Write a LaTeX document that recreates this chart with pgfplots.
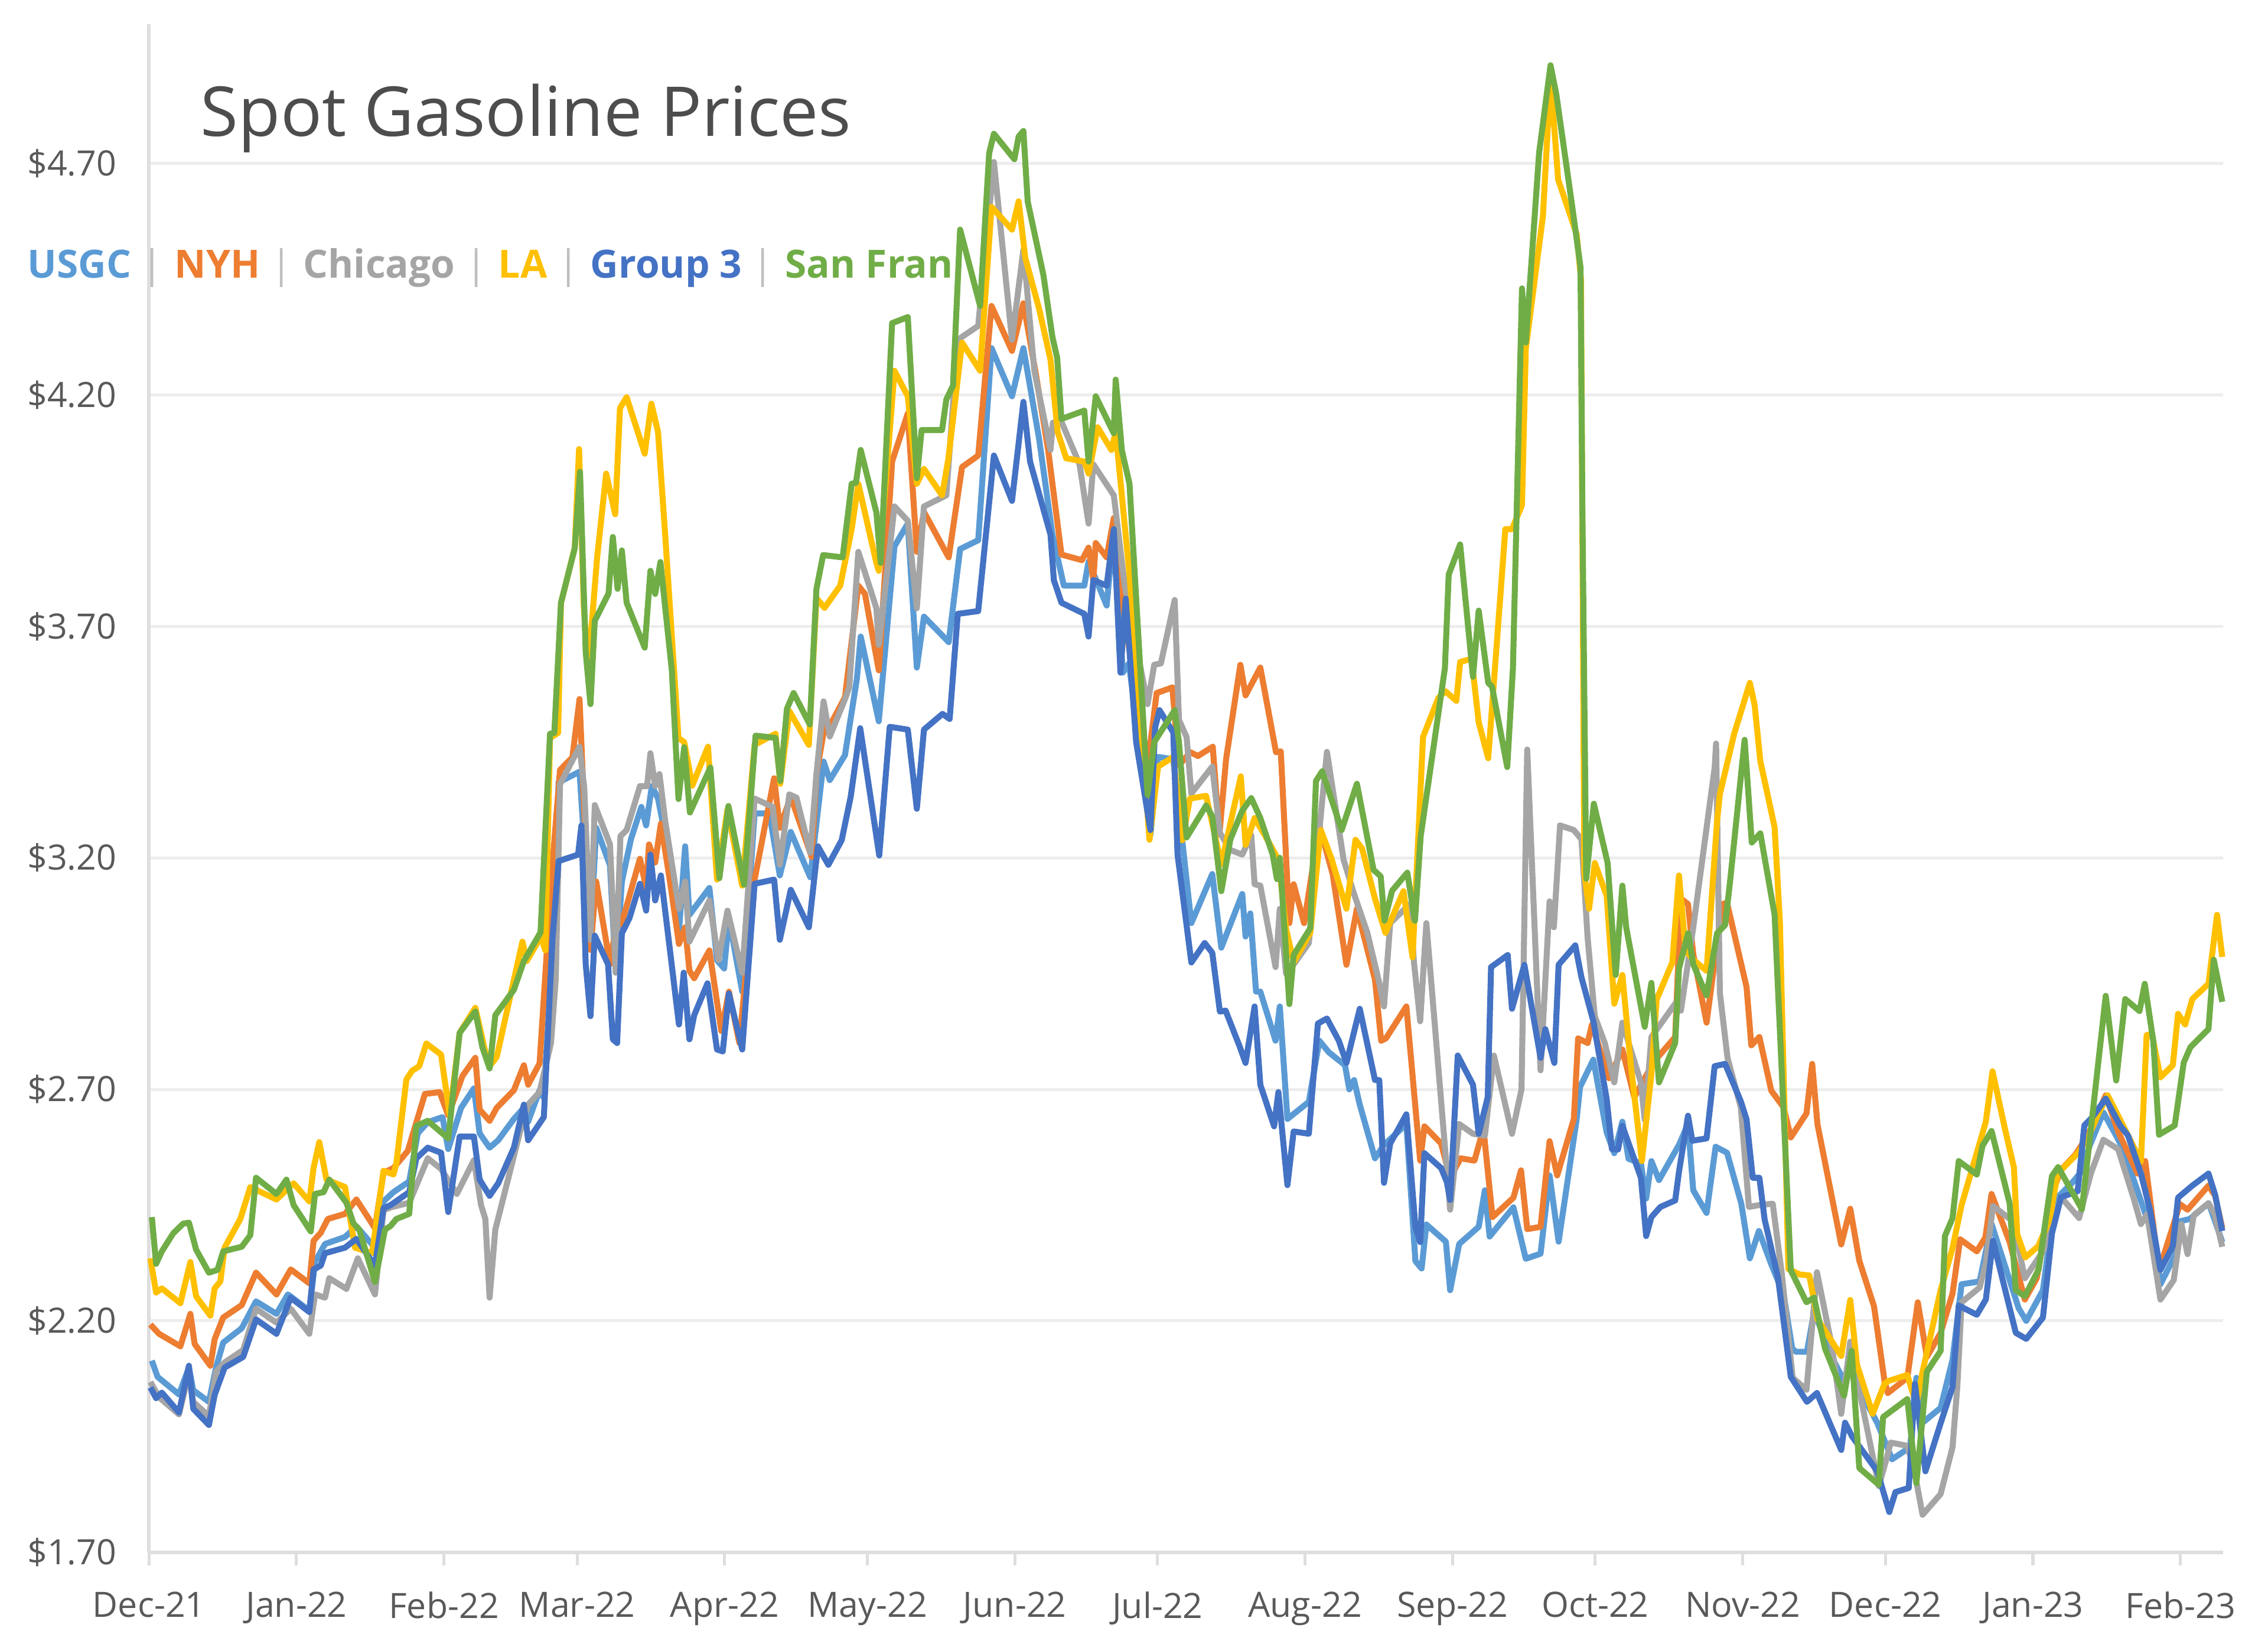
\documentclass[border=0pt]{standalone}
\usepackage{fontspec}
\setmainfont{Open Sans}
\usepackage{pgfplots}
\pgfplotsset{compat=1.18}
\definecolor{usgc}{HTML}{5B9BD5}
\definecolor{nyh}{HTML}{ED7D31}
\definecolor{chi}{HTML}{A5A5A5}
\definecolor{la}{HTML}{FFC000}
\definecolor{gthree}{HTML}{4472C4}
\definecolor{sf}{HTML}{70AD47}
\definecolor{ticktxt}{HTML}{595959}
\definecolor{titletxt}{HTML}{4D4D4D}
\definecolor{sep}{HTML}{BFBFBF}
\begin{document}
\begin{tikzpicture}
\begin{axis}[
  scale only axis, width=14.633cm, height=10.776cm,
  xmin=0, xmax=436, ymin=1.7, ymax=5.0,
  axis x line*=bottom, axis y line*=left,
  axis line style={draw=black!13, line width=0.7pt},
  xtick={0,31,62,90,121,151,182,212,243,274,304,335,365,396,427},
  xticklabels={Dec-21,Jan-22,Feb-22,Mar-22,Apr-22,May-22,Jun-22,Jul-22,Aug-22,Sep-22,Oct-22,Nov-22,Dec-22,Jan-23,Feb-23},
  ytick={1.7,2.2,2.7,3.2,3.7,4.2,4.7},
  yticklabels={\$1.70,\$2.20,\$2.70,\$3.20,\$3.70,\$4.20,\$4.70},
  ymajorgrids, grid style={draw=black!7, line width=0.6pt},
  tick align=outside, major tick length=2.6pt,
  xtick style={draw=black!13, line width=0.6pt},
  ytick style={draw=none},
  tick label style={font=\fontsize{7}{8}\selectfont, text=ticktxt},
  xticklabel style={yshift=-1.8pt},
  yticklabel style={xshift=-0.4pt},
  clip=false,
  every axis plot/.append style={line width=1.2pt, line join=round, mark=none},
]
% USGC
\addplot[usgc] coordinates {(0.6,2.114)(1.8,2.079)(6.3,2.041)(8.4,2.099)(9.3,2.05)(12.6,2.025)(14.1,2.099)(15.6,2.153)(19.5,2.184)(22.5,2.242)(26.8,2.215)(29.2,2.257)(33.7,2.222)(34.9,2.327)(37.0,2.366)(41.2,2.381)(43.6,2.404)(47.5,2.358)(49.3,2.458)(51.4,2.478)(54.7,2.501)(56.5,2.605)(58.6,2.629)(61.7,2.64)(62.9,2.571)(65.6,2.66)(68.3,2.702)(69.5,2.605)(71.6,2.574)(73.4,2.59)(76.7,2.636)(78.8,2.66)(79.7,2.63)(82.1,2.698)(82.9,2.683)(85.1,3.023)(86.1,3.363)(90.5,3.386)(92.8,3.023)(94,3.265)(96.9,3.184)(98.1,2.952)(99.4,3.149)(101.3,3.24)(103.5,3.31)(104.5,3.27)(105.7,3.355)(107,3.328)(108.3,3.26)(111.4,3.041)(112.7,3.225)(113.6,3.077)(117.8,3.135)(119.4,2.979)(120.9,2.961)(121.9,3.07)(124.7,2.911)(127.3,3.296)(130.4,3.296)(132.6,3.162)(134.9,3.256)(139,3.158)(141.8,3.408)(143.1,3.368)(146.3,3.422)(148.8,3.587)(149.6,3.678)(153.4,3.495)(156.7,3.873)(159.5,3.922)(161.4,3.611)(162.9,3.721)(168.1,3.666)(170.5,3.867)(174.3,3.886)(177.1,4.301)(181.4,4.197)(183.8,4.301)(187.1,4.105)(189.9,3.898)(192.3,3.788)(196.6,3.788)(197.5,3.84)(201.3,3.745)(202.8,3.91)(204.7,3.6)(206,3.62)(210.5,3.249)(212.1,3.418)(215.3,3.413)(219.1,3.059)(223.5,3.165)(225.4,3.006)(229.8,3.122)(230.5,3.03)(231.5,3.08)(232.7,2.911)(233.6,2.911)(236.8,2.805)(237.7,2.879)(239.3,2.636)(243.8,2.673)(246,2.805)(248,2.78)(251.4,2.752)(252.3,2.7)(253.3,2.72)(254.5,2.667)(257.7,2.551)(259.6,2.58)(264.3,2.625)(266.2,2.329)(267.5,2.313)(268.5,2.408)(272.6,2.371)(273.5,2.266)(275.4,2.366)(279.5,2.403)(280.8,2.482)(281.8,2.382)(284,2.41)(286.8,2.445)(289.4,2.334)(292.5,2.345)(294.4,2.514)(296.3,2.371)(300.1,2.636)(300.8,2.705)(303.6,2.764)(306.4,2.607)(308,2.562)(309.7,2.63)(311,2.55)(313.6,2.54)(314.7,2.464)(315.8,2.545)(317.4,2.504)(321.6,2.58)(323.5,2.625)(324.6,2.482)(327.4,2.433)(329.3,2.576)(331.7,2.563)(334.7,2.453)(336.5,2.335)(338.4,2.394)(341,2.322)(343.6,2.257)(345.4,2.14)(346.2,2.133)(348.5,2.133)(350,2.22)(353.8,2.12)(356.3,2.07)(357.6,2.09)(363.3,1.979)(366.4,1.901)(370.2,1.927)(371.5,2.077)(372.8,1.98)(376.6,2.012)(379.1,2.116)(381,2.279)(384.8,2.285)(387.3,2.409)(393,2.227)(394.6,2.2)(398.1,2.266)(400.6,2.461)(404.4,2.5)(406,2.52)(408,2.58)(410.8,2.65)(413.5,2.6)(415,2.57)(418,2.48)(420,2.42)(421.5,2.38)(422.8,2.279)(426,2.344)(426.9,2.415)(429,2.42)(432.9,2.454)(433.8,2.43)(435.8,2.37)};
% NYH
\addplot[nyh] coordinates {(0.3,2.192)(2.1,2.172)(6.6,2.145)(8.7,2.215)(9.6,2.15)(12.9,2.103)(13.8,2.16)(15.6,2.207)(19.5,2.234)(22.5,2.304)(26.8,2.257)(29.8,2.311)(33.7,2.281)(34.6,2.373)(36.1,2.39)(37.6,2.42)(41.2,2.431)(43.6,2.462)(47.5,2.4)(49.3,2.52)(51.4,2.53)(54.4,2.567)(58.0,2.69)(61.1,2.694)(62.9,2.644)(65.9,2.729)(68.6,2.768)(69.5,2.656)(71.6,2.632)(73.1,2.66)(76.7,2.698)(78.8,2.752)(79.7,2.71)(82.1,2.756)(84.8,3.184)(86.4,3.39)(89,3.417)(90.5,3.543)(91.5,3.3)(92.8,3.001)(94,3.149)(96.9,2.97)(98.1,3.05)(99.4,3.06)(103.2,3.198)(104.5,3.135)(105.1,3.229)(106.4,3.19)(107.6,3.274)(109.5,3.15)(111.4,3.014)(112.7,3.05)(113.6,2.956)(114.6,2.94)(117.8,3.0)(120.3,2.826)(121.9,2.911)(124.1,2.8)(127.3,3.153)(131.4,3.372)(132.6,3.265)(134.9,3.332)(139.3,3.202)(140.3,3.38)(142.1,3.489)(143.1,3.485)(146.3,3.547)(149.1,3.788)(150.5,3.77)(153.4,3.605)(156.2,4.056)(159.5,4.16)(161.4,3.861)(162.9,3.947)(168.1,3.849)(170.9,4.044)(174.3,4.069)(177.1,4.392)(181.4,4.295)(183.8,4.398)(186.5,4.24)(189,4.081)(191.8,3.855)(196.1,3.843)(197.5,3.87)(198.5,3.8)(199,3.88)(201.3,3.849)(202.8,3.934)(205.1,3.715)(209.9,3.397)(211.8,3.556)(215.1,3.568)(216.5,3.4)(218.9,3.428)(220.5,3.42)(223.6,3.44)(225,3.25)(226.4,3.413)(229.4,3.617)(230.5,3.551)(233.6,3.611)(236.9,3.428)(237.9,3.43)(239.7,3.059)(240.6,3.143)(242.8,3.059)(246,3.27)(248.8,3.165)(251.7,2.969)(253.9,3.09)(257.7,2.937)(259,2.805)(260,2.81)(264.3,2.879)(267.2,2.546)(268.1,2.62)(271.6,2.583)(273.5,2.509)(275.7,2.551)(278.6,2.546)(280.5,2.615)(282.4,2.424)(286.8,2.466)(288.4,2.525)(289.7,2.398)(292.5,2.403)(294.4,2.588)(296,2.514)(299.5,2.636)(300.4,2.81)(302.4,2.8)(303.3,2.84)(306.9,2.724)(309.7,2.786)(312.2,2.683)(315.8,2.75)(317.2,2.77)(320.8,2.813)(321.9,3.091)(322.4,3.109)(323.5,3.1)(324.6,2.992)(327.4,2.844)(330.7,3.1)(331.7,3.103)(335.8,2.921)(336.8,2.795)(338.5,2.813)(341,2.697)(343.6,2.661)(345.1,2.596)(348.4,2.648)(349.6,2.755)(350.7,2.625)(355.7,2.365)(357.6,2.442)(359.5,2.33)(362.6,2.231)(364.8,2.07)(365.5,2.044)(369.6,2.077)(371.8,2.24)(373.7,2.122)(376.6,2.174)(379.1,2.259)(380.7,2.376)(384.2,2.35)(386,2.38)(387.3,2.474)(391.1,2.37)(394.3,2.246)(396.8,2.292)(400,2.474)(401.9,2.526)(405,2.56)(407.5,2.6)(411.3,2.687)(413.9,2.609)(418,2.518)(419.6,2.545)(422.5,2.309)(426.9,2.452)(428.5,2.44)(432.9,2.492)(434.3,2.47)(435.8,2.4)};
% Chicago
\addplot[chi] coordinates {(0.3,2.068)(2.1,2.035)(6.3,1.998)(8.4,2.087)(9.3,2.025)(12.6,1.994)(14.1,2.09)(15.9,2.11)(19.8,2.137)(22.5,2.226)(26.8,2.196)(29.8,2.226)(33.7,2.172)(34.9,2.257)(37.0,2.25)(37.9,2.292)(41.5,2.269)(43.9,2.335)(47.5,2.257)(49.3,2.439)(50.8,2.445)(54.7,2.455)(58.6,2.551)(61.4,2.528)(64.7,2.474)(68.3,2.547)(69.8,2.45)(70.7,2.42)(71.6,2.25)(72.8,2.397)(78.5,2.629)(79.7,2.667)(82.1,2.694)(84.5,2.8)(85.5,2.938)(86.4,3.359)(90.5,3.44)(91.5,3.35)(92.8,3.023)(93.7,3.314)(96.9,3.229)(98.1,2.952)(99.1,3.247)(100.4,3.26)(103.2,3.355)(104.7,3.355)(105.4,3.426)(106.4,3.355)(107.3,3.381)(108.5,3.28)(111.4,3.09)(112.7,3.149)(113.6,3.019)(117.8,3.108)(119.7,2.979)(121.6,3.086)(124.7,2.952)(127.3,3.328)(131.1,3.31)(132.6,3.185)(134.6,3.337)(136.1,3.33)(139,3.211)(140.3,3.38)(141.8,3.538)(143.1,3.462)(146.3,3.543)(147.2,3.568)(149.1,3.861)(152.9,3.739)(153.4,3.66)(156.7,3.959)(159.5,3.928)(161.4,3.739)(162.9,3.959)(167.6,3.983)(170,4.319)(174.3,4.349)(177.6,4.703)(181.4,4.319)(183.8,4.514)(186.1,4.252)(189.5,4.081)(190,4.14)(191.8,4.142)(195.6,4.05)(197.5,3.922)(198.5,4.05)(202.8,3.983)(205.1,3.788)(209.9,3.532)(211.3,3.617)(212.7,3.62)(215.6,3.757)(216.5,3.498)(218.1,3.461)(219.1,3.339)(223.5,3.397)(225.1,3.254)(227.3,3.217)(229.8,3.207)(231.7,3.249)(232.4,3.143)(233.6,3.14)(236.8,2.964)(237.7,3.09)(239,2.95)(240.9,2.974)(243.8,3.016)(246.3,3.291)(247.6,3.429)(251.1,3.196)(253.3,3.122)(256.1,3.038)(258.6,2.93)(259.6,2.879)(260.9,3.059)(265,3.1)(265.9,2.974)(267.2,2.847)(268.5,3.059)(273.5,2.44)(275.4,2.625)(278.3,2.604)(280.8,2.6)(282.7,2.773)(286.5,2.604)(288.5,2.7)(289.7,3.434)(292.5,2.741)(294.4,3.106)(295.3,3.05)(296.6,3.27)(299.5,3.26)(301.1,3.24)(302.4,3.027)(303.9,2.858)(306,2.8)(308,2.715)(309.7,2.844)(313.6,2.715)(314.4,2.634)(315.8,2.813)(320.8,2.885)(322,2.87)(324.6,3.05)(329.1,3.395)(329.4,3.447)(330.2,2.908)(331.8,2.768)(334.6,2.661)(336.3,2.446)(338.5,2.45)(341.3,2.453)(343.2,2.303)(345.5,2.077)(348.4,2.051)(350.6,2.305)(353.8,2.142)(355.7,1.999)(357.6,2.155)(359.5,2.05)(363.6,1.843)(365.2,1.901)(366.1,1.937)(369.6,1.93)(371,1.88)(372.8,1.781)(376.6,1.826)(379.1,1.927)(380.1,2.057)(381,2.24)(384.8,2.272)(386.1,2.324)(387.6,2.448)(391.8,2.415)(394.3,2.292)(398.1,2.35)(401.9,2.467)(405.7,2.422)(408.2,2.519)(410.8,2.591)(413.9,2.571)(417.1,2.467)(418.7,2.409)(420,2.43)(422.8,2.246)(425.6,2.288)(427.2,2.409)(428.5,2.344)(429.8,2.428)(432.9,2.454)(434.2,2.43)(435.8,2.36)};
% LA
\addplot[la] coordinates {(0.3,2.335)(1.5,2.261)(2.7,2.27)(6.6,2.238)(8.7,2.327)(9.9,2.253)(12.9,2.211)(13.8,2.27)(15.0,2.285)(15.9,2.358)(19.2,2.42)(21.3,2.489)(26.8,2.462)(30.4,2.497)(33.7,2.458)(34.6,2.53)(35.8,2.586)(37.3,2.505)(41.2,2.489)(43.3,2.358)(46.9,2.346)(49.3,2.524)(51.4,2.516)(52.0,2.54)(54.1,2.721)(55.3,2.74)(56.8,2.75)(58.3,2.799)(61.4,2.775)(63.2,2.644)(65.3,2.822)(68.6,2.876)(70.7,2.78)(71.6,2.75)(73.1,2.77)(78.5,3.019)(79.4,2.977)(82.4,3.03)(83.3,3.0)(84.3,3.459)(86,3.47)(86.6,3.75)(89.5,3.87)(90.4,4.083)(91.4,3.742)(92.3,3.605)(94.2,3.849)(96.1,4.03)(98,3.942)(99,4.171)(100.4,4.195)(104.2,4.073)(105.6,4.181)(107,4.12)(108.5,3.898)(111.3,3.459)(112.5,3.45)(114.2,3.356)(117.5,3.44)(119.4,3.153)(121.6,3.305)(124.7,3.14)(127.3,3.444)(131.7,3.468)(132.7,3.36)(134.6,3.517)(138.7,3.444)(140.3,3.761)(142,3.74)(145.3,3.788)(147.7,3.91)(149.1,4.008)(152.9,3.837)(153.4,3.82)(156.7,4.252)(159.5,4.197)(161.4,4.008)(162.9,4.04)(166.7,3.983)(168,4.06)(170.9,4.313)(174.7,4.252)(177.1,4.606)(181.4,4.557)(182.8,4.618)(184.2,4.496)(187.1,4.386)(189.5,4.276)(191,4.12)(192.8,4.063)(196.6,4.056)(197.5,4.03)(199.4,4.13)(202.3,4.081)(203.2,4.12)(206.1,3.812)(210.3,3.239)(212.1,3.397)(215.3,3.418)(217.2,3.238)(218.8,3.328)(222.2,3.334)(225.4,3.186)(229.5,3.376)(230.5,3.228)(232.4,3.286)(234.5,3.25)(237.4,3.196)(239,3.048)(240.6,2.974)(244.1,3.038)(246.3,3.26)(248.5,3.2)(251.7,3.09)(253.6,3.239)(255,3.22)(257.7,3.112)(259.9,3.038)(263.7,3.128)(265.6,2.985)(267.8,3.461)(271,3.545)(272.5,3.56)(274.8,3.539)(275.6,3.623)(278,3.63)(279.5,3.493)(281.5,3.415)(285.1,3.91)(286.5,3.91)(288.6,3.962)(289.4,4.3)(293,4.586)(294.6,4.886)(296.2,4.665)(300.1,4.547)(301,4.45)(301.7,3.168)(302.7,3.09)(303.9,3.189)(306.4,3.118)(308,2.885)(309.7,2.947)(311.5,2.75)(313.8,2.545)(315.8,2.733)(316.9,2.894)(320.2,2.974)(321.6,3.162)(323,3.0)(324.6,2.98)(327.4,2.956)(329.6,3.279)(330.2,3.338)(333.2,3.468)(336.5,3.578)(337.5,3.53)(338.7,3.409)(341.7,3.266)(342.8,3.064)(344.6,2.312)(347,2.3)(349,2.298)(350.7,2.204)(355.7,2.124)(357.6,2.245)(359,2.106)(362.3,1.999)(364.8,2.064)(365.6,2.07)(369.6,2.083)(371.5,2.018)(372.8,2.09)(376.6,2.266)(379.1,2.357)(381,2.45)(384.8,2.584)(386.1,2.63)(387.5,2.739)(390,2.62)(392,2.531)(392.7,2.387)(394.4,2.337)(397.1,2.361)(399.4,2.415)(401.2,2.518)(405.7,2.565)(407.6,2.596)(409.8,2.648)(411.7,2.687)(414.3,2.635)(416,2.6)(418.7,2.544)(419.9,2.817)(421,2.82)(422.8,2.726)(425.4,2.752)(426.5,2.863)(428,2.84)(429.5,2.895)(432.9,2.928)(434.7,3.077)(435.8,2.986)};
% Group 3
\addplot[gthree] coordinates {(0.3,2.056)(1.5,2.033)(2.7,2.045)(6.3,2.002)(8.4,2.103)(9.3,2.01)(12.6,1.975)(13.8,2.04)(15.9,2.099)(19.8,2.122)(22.5,2.203)(26.8,2.172)(29.8,2.25)(33.7,2.219)(34.6,2.311)(36.1,2.319)(37.0,2.346)(41.2,2.358)(43.6,2.377)(47.5,2.319)(49.3,2.443)(50.8,2.45)(54.7,2.478)(56.2,2.551)(58.6,2.574)(61.4,2.563)(62.9,2.435)(65.3,2.598)(68.3,2.598)(69.5,2.505)(71.6,2.47)(73.4,2.497)(76.7,2.574)(78.8,2.667)(79.7,2.59)(83.0,2.64)(84.8,3.023)(86.1,3.193)(90.2,3.207)(90.9,3.27)(91.8,2.97)(92.8,2.858)(93.7,3.032)(96.5,2.97)(97.5,2.808)(98.4,2.8)(99.4,3.037)(101,3.07)(103.2,3.144)(104.5,3.086)(105.4,3.207)(106.4,3.108)(107.6,3.162)(111.4,2.84)(112.4,2.952)(113.6,2.808)(114.6,2.86)(117.4,2.929)(119.4,2.786)(120.6,2.782)(121.9,2.907)(124.7,2.786)(127.3,3.144)(131.4,3.153)(132.6,3.023)(134.9,3.131)(138.7,3.05)(140.6,3.225)(142.8,3.185)(145.6,3.238)(147.5,3.332)(149.5,3.48)(153.5,3.205)(155.7,3.483)(159.5,3.477)(161.4,3.306)(162.9,3.477)(166.8,3.511)(168.3,3.5)(170,3.727)(174.3,3.733)(177.6,4.069)(181.4,3.971)(183.8,4.185)(185.2,4.056)(189.5,3.898)(190.2,3.8)(191.8,3.751)(196.6,3.727)(197.5,3.678)(198.5,3.8)(201.3,3.788)(202.8,3.91)(204.2,3.6)(205.3,3.76)(207.5,3.45)(210.5,3.26)(211.5,3.482)(212.4,3.519)(215.3,3.471)(216.2,3.207)(219.1,2.974)(221.9,3.016)(223.5,2.995)(225.1,2.868)(226.3,2.87)(229.2,2.794)(230.5,2.757)(232.4,2.879)(233.6,2.71)(236.5,2.62)(237.4,2.694)(239.3,2.493)(240.6,2.609)(243.8,2.604)(245.7,2.842)(247.6,2.853)(250.1,2.805)(251.7,2.757)(254.5,2.874)(257.7,2.72)(258.6,2.72)(259.6,2.498)(260.9,2.583)(264.3,2.646)(266.2,2.403)(267.2,2.37)(268.1,2.562)(271.6,2.53)(272.8,2.5)(273.5,2.461)(275.1,2.773)(278.3,2.71)(279.5,2.604)(281.4,2.683)(282.1,2.964)(285.6,2.99)(286.5,2.874)(289.1,2.969)(292.5,2.768)(293.5,2.83)(295.4,2.757)(296.3,2.969)(299.8,3.011)(301.1,2.942)(303.6,2.847)(306.4,2.679)(307.5,2.571)(308.8,2.57)(309.7,2.621)(313.6,2.509)(314.7,2.383)(315.8,2.424)(317.7,2.446)(320.8,2.46)(321.6,2.522)(323.5,2.643)(324.4,2.589)(327.4,2.594)(329.1,2.75)(331.3,2.755)(334.6,2.674)(335.8,2.635)(337.1,2.509)(338.5,2.509)(339.6,2.419)(342.4,2.294)(345.1,2.079)(346.8,2.052)(348.5,2.025)(350.6,2.044)(355.7,1.921)(356.5,1.98)(358,1.95)(363.3,1.875)(365.8,1.787)(367.1,1.83)(369.9,1.839)(371.2,2.064)(373.4,1.875)(376.6,1.979)(379.1,2.057)(380.4,2.233)(384.2,2.213)(386.1,2.246)(387.6,2.373)(392.4,2.174)(394.6,2.161)(398.1,2.207)(400,2.389)(401.9,2.467)(405.4,2.48)(406.8,2.622)(408.5,2.64)(411.3,2.68)(414.3,2.622)(416,2.6)(418.7,2.518)(420.6,2.44)(422.8,2.31)(425.4,2.361)(426.5,2.466)(429.5,2.492)(432.9,2.518)(434.3,2.472)(435.8,2.394)};
% San Fran
\addplot[sf] coordinates {(0.6,2.424)(1.5,2.323)(2.7,2.35)(5.1,2.389)(7.2,2.41)(8.4,2.412)(9.9,2.354)(12.6,2.304)(14.4,2.31)(15.6,2.35)(19.5,2.36)(21.3,2.385)(22.5,2.509)(26.8,2.474)(28.9,2.505)(30.4,2.45)(34.0,2.393)(34.9,2.474)(36.7,2.478)(37.9,2.505)(41.5,2.455)(43.0,2.41)(44.2,2.397)(47.5,2.284)(49.6,2.397)(50.8,2.405)(52.0,2.42)(54.7,2.431)(56.2,2.621)(58.6,2.632)(62.9,2.594)(65.3,2.822)(68.6,2.868)(70.1,2.79)(71.6,2.745)(72.8,2.86)(76.7,2.915)(78.8,2.977)(82.3,3.039)(84.3,3.468)(85.2,3.47)(86.6,3.751)(89.5,3.869)(90.6,4.034)(91.8,3.644)(92.8,3.532)(93.7,3.712)(96.6,3.771)(97.5,3.893)(98.5,3.781)(99.4,3.864)(100.4,3.751)(104.2,3.654)(105.4,3.82)(106.4,3.77)(107.5,3.839)(109.9,3.605)(111.3,3.327)(112.5,3.439)(113.7,3.298)(118,3.395)(119.9,3.156)(121.8,3.312)(125.1,3.142)(127.5,3.464)(131.7,3.459)(132.7,3.366)(134.1,3.522)(135.5,3.556)(138.9,3.488)(140.3,3.781)(141.7,3.854)(145.8,3.849)(147.7,4.008)(148.6,4.01)(149.6,4.081)(152.9,3.946)(153.8,3.837)(156.2,4.355)(159.5,4.368)(161.4,4.02)(162.4,4.124)(166.7,4.124)(167.6,4.19)(169,4.22)(170.5,4.557)(174.7,4.392)(176.6,4.722)(177.6,4.764)(181.9,4.709)(182.8,4.758)(183.8,4.77)(184.7,4.618)(188,4.459)(189.9,4.325)(190.9,4.28)(191.8,4.148)(196.6,4.166)(197.5,4.056)(199,4.197)(202.8,4.117)(203.2,4.233)(204.5,4.08)(206.1,4.008)(209.9,3.336)(211.3,3.45)(215.6,3.519)(216.5,3.45)(218.1,3.244)(222.2,3.313)(223.5,3.29)(225.4,3.128)(227.3,3.24)(229.8,3.302)(231.7,3.329)(233.6,3.286)(236.2,3.207)(237.1,3.154)(237.7,3.2)(239.7,2.884)(240.6,2.99)(244.1,3.048)(245.3,3.366)(246.6,3.387)(250.7,3.26)(253.9,3.36)(257.4,3.174)(258.9,3.16)(259.7,3.064)(261.3,3.129)(264.5,3.168)(266.1,3.064)(267.3,3.246)(272.4,3.61)(273.2,3.812)(275.6,3.877)(278.3,3.591)(279.5,3.734)(281.5,3.578)(282.3,3.57)(285.5,3.396)(286.7,3.61)(288.6,4.43)(289.4,4.313)(292.2,4.723)(294.6,4.912)(295.8,4.85)(298.9,4.626)(300.9,4.476)(301.3,3.949)(302.1,3.155)(303.7,3.317)(306.6,3.189)(308.3,2.947)(309.7,3.14)(310.5,3.05)(314.4,2.835)(315.8,2.93)(317.4,2.715)(320.8,2.8)(321.6,2.961)(323.5,3.037)(324.6,2.97)(327.4,2.903)(329.6,3.037)(331.3,3.055)(332.4,3.155)(335.4,3.455)(336.9,3.233)(338.7,3.253)(341.7,3.077)(343.2,2.739)(345.1,2.309)(348.4,2.24)(350,2.25)(352.3,2.14)(356.3,2.038)(357.9,2.135)(359.5,1.882)(363.6,1.846)(364.5,1.992)(369.6,2.031)(371.5,1.849)(373.7,2.09)(376.6,2.135)(377.5,2.383)(379.1,2.422)(380.4,2.545)(384.2,2.516)(385.4,2.578)(387.3,2.61)(391.1,2.454)(392.4,2.266)(394.3,2.253)(397.2,2.311)(400,2.513)(401.3,2.532)(406.3,2.441)(411.3,2.902)(413.1,2.752)(413.5,2.719)(415.4,2.895)(418.4,2.869)(419.5,2.928)(421.3,2.804)(422.5,2.602)(425.8,2.622)(427.7,2.758)(429.1,2.791)(432.9,2.83)(434,2.98)(435.8,2.889)};
% title and legend text
\node[anchor=base west, inner sep=0pt, font=\fontsize{13.8}{16}\selectfont, text=titletxt] at (rel axis cs:0.0245,0.927) {Spot Gasoline Prices};
\node[anchor=base west, inner sep=0pt, font=\fontsize{7.8}{9}\selectfont] at (rel axis cs:-0.059,0.834)
  {\textbf{\color{usgc}USGC}\hspace{2.1pt}{\color{sep}|}\hspace{2.3pt}\textbf{\color{nyh}NYH}\hspace{2.1pt}{\color{sep}|}\hspace{2.3pt}\textbf{\color{chi}Chicago}\hspace{2.1pt}{\color{sep}|}\hspace{2.3pt}\textbf{\color{la}LA}\hspace{2.1pt}{\color{sep}|}\hspace{2.3pt}\textbf{\color{gthree}Group 3}\hspace{2.1pt}{\color{sep}|}\hspace{2.3pt}\textbf{\color{sf}San Fran}};
\end{axis}
\pgfresetboundingbox
\path (current axis.south west) ++(-1.051cm,-0.643cm) coordinate (bl);
\path (current axis.north east) ++(0.316cm,0.173cm) coordinate (tr);
\path (bl) rectangle (tr);
\end{tikzpicture}
\end{document}
